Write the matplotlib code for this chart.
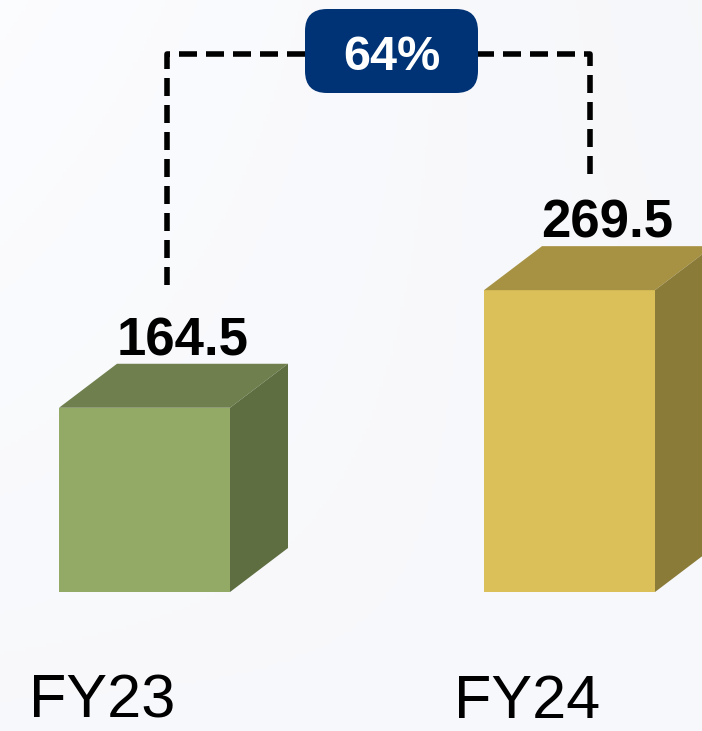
import numpy as np
import matplotlib
matplotlib.use("Agg")
import matplotlib.pyplot as plt
from matplotlib.patches import Polygon, FancyBboxPatch

# Data.
categories = ["FY23", "FY24"]
values = [164.5, 269.5]
growth_label = "64%"

front_colors = ["#92AA66", "#DBC059"]
top_colors = ["#6F7F4D", "#A79243"]
side_colors = ["#5E6E40", "#8B7B38"]

# Layout (x in pixels, y in value units).
px_per_unit = 1.12
centers = [144.5, 569.5]
bar_width = 171
depth_x = 58
depth_y = 44 / px_per_unit

plt.rcParams["font.family"] = ["Liberation Sans", "DejaVu Sans"]

fig = plt.figure(figsize=(7.02, 7.31), dpi=100)
ax = fig.add_axes([0, 0, 1, 1])
ax.set_xlim(0, 702)
ax.set_ylim(-139 / px_per_unit, 592 / px_per_unit)
ax.axis("off")

# Background (soft light gradient).
yy, xx = np.mgrid[0:1:200j, 0:1:200j]
bg = 0.972 + 0.02 * (1 - xx) * (1 - yy) + 0.006 * yy
bg_rgb = np.dstack([bg - 0.006, bg - 0.003, bg + 0.008]).clip(0, 1)
ax.imshow(bg_rgb, extent=ax.get_xlim() + ax.get_ylim(), aspect="auto", zorder=0)

# 3D bars.
for i, value in enumerate(values):
    left = centers[i] - bar_width / 2
    right = centers[i] + bar_width / 2
    ax.bar(centers[i], value, width=bar_width, color=front_colors[i], zorder=3)
    top = Polygon(
        [(left, value), (right, value), (right + depth_x, value + depth_y), (left + depth_x, value + depth_y)],
        closed=True, facecolor=top_colors[i], edgecolor="none", zorder=3,
    )
    side = Polygon(
        [(right, 0), (right, value), (right + depth_x, value + depth_y), (right + depth_x, depth_y)],
        closed=True, facecolor=side_colors[i], edgecolor="none", zorder=3,
    )
    ax.add_patch(top)
    ax.add_patch(side)

    # Value label.
    ax.text(centers[i] + 38, value + depth_y + 8.5 / px_per_unit, f"{value:.1f}",
            ha="center", va="baseline", fontsize=38, fontweight="bold", color="black", zorder=4)
    # Category label.
    ax.text(centers[i] - 42, -126 / px_per_unit, categories[i],
            ha="center", va="baseline", fontsize=44, color="black", zorder=4)

# Growth bracket.
bracket_y = 538 / px_per_unit
x_left = centers[0] + 22
x_right = centers[1] + 20.5
lw = 4.0
ax.plot([x_left, x_left, x_right, x_right],
        [values[0] + 110, bracket_y, bracket_y, values[1] + 104],
        color="black", linewidth=lw, linestyle=(0, (18 * 0.72 / lw, 9 * 0.72 / lw)),
        solid_joinstyle="miter", dash_capstyle="butt", zorder=2)

box = FancyBboxPatch((305, 499 / px_per_unit), 173, 84 / px_per_unit,
                     boxstyle="round,pad=0,rounding_size=22",
                     mutation_aspect=1 / px_per_unit,
                     facecolor="#003375", edgecolor="none", zorder=4)
ax.add_patch(box)
ax.text(391.5, (592 - 70) / px_per_unit, growth_label, ha="center", va="baseline",
        fontsize=35, fontweight="bold", color="white", zorder=5)

fig.savefig("out.png", dpi=100)
